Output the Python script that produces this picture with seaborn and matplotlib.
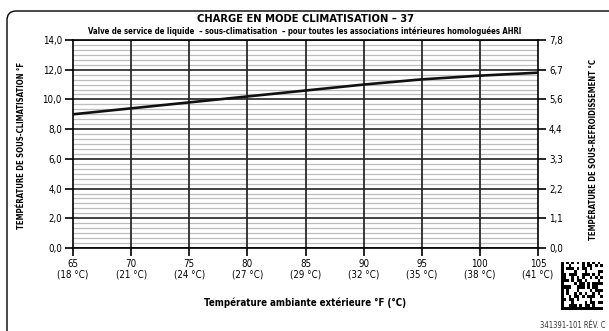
import matplotlib
matplotlib.use("Agg")
import matplotlib.pyplot as plt
from matplotlib.patches import FancyBboxPatch
from matplotlib.ticker import MultipleLocator
import numpy as np
import pandas as pd
import seaborn as sns

# ---- data ----
temps_f = [65, 70, 75, 80, 85, 90, 95, 100, 105]
temps_c = ["18", "21", "24", "27", "29", "32", "35", "38", "41"]
subcool_f = [9.0, 9.4, 9.8, 10.2, 10.6, 11.0, 11.35, 11.6, 11.8]
yticks_f = [0, 2, 4, 6, 8, 10, 12, 14]
ylabels_f = ["0,0", "2,0", "4,0", "6,0", "8,0", "10,0", "12,0", "14,0"]
ylabels_c = ["0,0", "1,1", "2,2", "3,3", "4,4", "5,6", "6,7", "7,8"]

title = "CHARGE EN MODE CLIMATISATION – 37"
subtitle = ("Valve de service de liquide  – sous-climatisation  – "
            "pour toutes les associations intérieures homologuées AHRI")
xlabel = "Température ambiante extérieure °F (°C)"
ylabel_l = "TEMPÉRATURE DE SOUS-CLIMATISATION °F"
ylabel_r = "TEMPÉRATURE DE SOUS-REFROIDISSEMENT °C"
docref = "341391-101 RÉV. C"

df = pd.DataFrame({"temp": temps_f, "sc": subcool_f})

sns.set_theme(style="white")
plt.rcParams["font.family"] = ["DejaVu Sans"]
plt.rcParams["font.stretch"] = "condensed"
plt.rcParams["text.color"] = "black"
plt.rcParams["xtick.color"] = "black"
plt.rcParams["ytick.color"] = "black"

W, H = 609, 331
fig = plt.figure(figsize=(W / 100, H / 100), dpi=100)

# rounded border
bx0, by1 = 7 / W, 1 - 11 / H
border = FancyBboxPatch((bx0, -0.5), 1.5, by1 + 0.5,
                        boxstyle="round,pad=0,rounding_size=0.015",
                        transform=fig.transFigure, fill=False,
                        edgecolor="black", linewidth=1.0,
                        mutation_aspect=W / H)
fig.patches.append(border)

ax = fig.add_axes([73 / W, 1 - 248 / H, (538 - 73) / W, (248 - 40) / H])
ax.set_xlim(65, 105)
ax.set_ylim(0, 14)

# grid
ax.yaxis.set_minor_locator(MultipleLocator(1 / 3))
ax.grid(which="minor", axis="y", color="#bdbdbd", linewidth=0.9, zorder=0)
ax.grid(which="major", axis="y", color="#333333", linewidth=1.3, zorder=1)
ax.grid(False, axis="x")
ax.vlines(temps_f[1:-1], 0, 14, colors="#2a2a2a", linewidth=1.3, zorder=2)
ax.set_axisbelow(True)

sns.lineplot(data=df, x="temp", y="sc", ax=ax, color="#111111",
             linewidth=1.9, zorder=5)

ax.set_xticks(temps_f)
ax.set_xticklabels([f"{t}\n({c} °C)" for t, c in zip(temps_f, temps_c)],
                   fontsize=7, linespacing=1.0)
ax.set_yticks(yticks_f)
ax.set_yticklabels(ylabels_f, fontsize=7)
ax.tick_params(axis="both", which="major", direction="out", length=6,
               width=1.2, color="black", labelcolor="black", pad=2,
               left=True, bottom=True)
ax.tick_params(axis="y", which="minor", length=0)
ax.set_xlabel("")
ax.set_ylabel("")
for s in ax.spines.values():
    s.set_color("black")
    s.set_linewidth(1.2)

ax2 = ax.twinx()
ax2.set_ylim(0, 14)
ax2.set_yticks(yticks_f)
ax2.set_yticklabels(ylabels_c, fontsize=7)
ax2.tick_params(axis="y", direction="out", length=6, width=1.2,
                color="black", labelcolor="black", pad=2, right=True)
for s in ax2.spines.values():
    s.set_visible(False)
ax2.grid(False)

# texts
fig.text(305 / W, 1 - 19 / H, title, ha="center", va="center",
         fontsize=8, fontweight="bold")
fig.text(305 / W, 1 - 31 / H, subtitle, ha="center", va="center",
         fontsize=5.6, fontweight="bold")
fig.text(305 / W, 1 - 303 / H, xlabel, ha="center", va="center",
         fontsize=7, fontweight="bold")
fig.text(22 / W, 1 - 145 / H, ylabel_l, ha="center", va="center",
         rotation=90, fontsize=5.6, fontweight="bold")
fig.text(593 / W, 1 - 150 / H, ylabel_r, ha="center", va="center",
         rotation=90, fontsize=5.6, fontweight="bold")
fig.text(606 / W, 1 - 325 / H, docref, ha="right", va="center",
         fontsize=5.5, color="#333333")

# data-matrix style marker (decorative)
n = 16
ii, jj = np.meshgrid(np.arange(n), np.arange(n), indexing="ij")
pat = (((ii * 5 + jj * 3) % 7 < 3) ^ ((ii * jj) % 5 == 1)).astype(float)
pat[:, 0] = 1
pat[-1, :] = 1
pat[0, :] = np.arange(n) % 2 == 0
pat[:, -1] = np.arange(n) % 2 == 1
axq = fig.add_axes([561 / W, 1 - 310 / H, 42 / W, 48 / H])
axq.imshow(pat, cmap="Greys", aspect="auto", interpolation="nearest",
           vmin=0, vmax=1)
axq.axis("off")

fig.savefig("out.png", dpi=100)
